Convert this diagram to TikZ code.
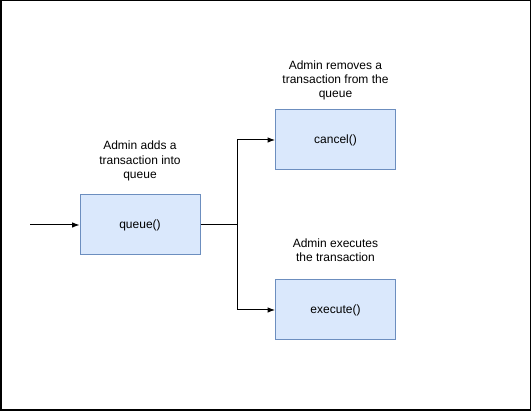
\documentclass[tikz,border=0pt]{standalone}
\usepackage{fontspec}
\setmainfont{Liberation Sans}
\usetikzlibrary{arrows.meta}

\definecolor{boxFill}{HTML}{DAE8FC}
\definecolor{boxLine}{HTML}{6C8EBF}

\tikzset{
    funcBox/.style={draw=boxLine, fill=boxFill, line width=1pt, minimum width=120pt, minimum height=60pt, font=\fontsize{12}{14.4}\selectfont},
    noteText/.style={align=center, font=\fontsize{12}{14.4}\selectfont, inner sep=0pt}
}

\begin{document}
\begin{tikzpicture}[>=Latex, x=1pt, y=-1pt, line width=1pt]
        \useasboundingbox (0,0) rectangle (531,411);
        \draw[line width=1.5pt] (0.75,0.75) rectangle (530.25,410.25);

        \node[funcBox] (queue) at (140,225) {queue()};
        \node[funcBox] (cancel) at (335.5,140) {cancel()};
        \node[funcBox] (execute) at (335.5,310) {execute()};

        \node[noteText] (queueNote) at (140,161) {Admin adds a\\transaction into\\queue};
        \node[noteText] (cancelNote) at (335.5,80.5) {Admin removes a\\transaction from the\\queue};
        \node[noteText] (executeNote) at (335.5,250.5) {Admin executes\\the transaction};

        \coordinate (start) at (30,225);
        \coordinate (split) at (237,225);

        \draw[->] (start) -- (queue.west);
        \draw[->] (queue.east) -- (split) |- (cancel.west);
        \draw[->] (split) |- (execute.west);

    \end{tikzpicture}
\end{document}
